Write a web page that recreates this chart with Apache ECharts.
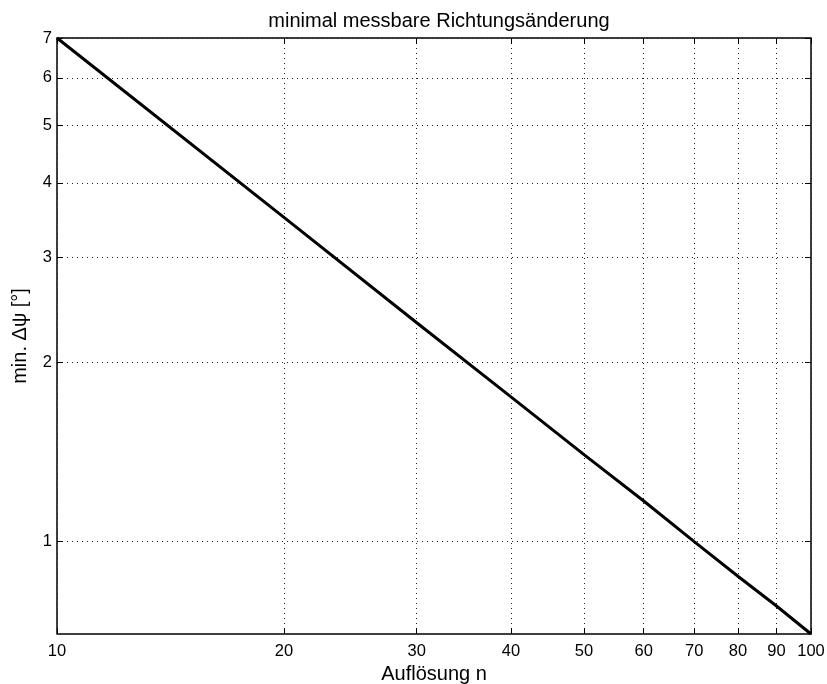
<!DOCTYPE html>
<html><head><meta charset="utf-8">
<script src="https://cdn.jsdelivr.net/npm/echarts@6/dist/echarts.min.js"></script>
<style>html,body{margin:0;padding:0;background:#fff}#c{width:827px;height:684px}</style>
</head><body><div id="c"></div>
<script>
const nValues = [10, 20, 30, 40, 50, 60, 70, 80, 90, 100];
const minDeltaPsi = [7, 3.5, 2.33, 1.75, 1.4, 1.17, 1.0, 0.875, 0.78, 0.7];
const xTicks = [10, 20, 30, 40, 50, 60, 70, 80, 90, 100];
const yTicks = [1, 2, 3, 4, 5, 6, 7];
const titleText = 'minimal messbare Richtungsänderung';
const xName = 'Auflösung n';
const yName = 'min. Δψ [°]';

const font = 'Liberation Sans, Arial, Helvetica, sans-serif';
const grid = {left: 57, right: 16, top: 38, bottom: 50, show: true, borderColor: '#000', borderWidth: 1.5,
  backgroundColor: 'transparent', containLabel: false, outerBoundsMode: 'none'};
const dotted = {color: '#222', width: 1, type: [1, 4]};

const chart = echarts.init(document.getElementById('c'), null, {renderer: 'canvas'});
chart.setOption({
  animation: false,
  backgroundColor: '#fff',
  title: {text: titleText, left: 434, top: 6, textAlign: 'center',
    textStyle: {fontFamily: font, fontSize: 20, fontWeight: 'normal', color: '#000'}},
  grid: grid,
  xAxis: [{
    type: 'log', logBase: 10, min: 10, max: 100, position: 'bottom',
    name: xName, nameLocation: 'middle', nameGap: 17,
    nameTextStyle: {fontFamily: font, fontSize: 20, color: '#000', lineHeight: 12},
    axisLine: {show: false},
    axisTick: {show: true, inside: true, length: 6, customValues: xTicks, lineStyle: {color: '#000'}},
    axisLabel: {customValues: xTicks, fontFamily: font, fontSize: 16.5, color: '#000', margin: 9, showMinLabel: true, showMaxLabel: true},
    splitLine: {show: true, lineStyle: dotted},
    minorTick: {show: false}, minorSplitLine: {show: false}
  }, {
    type: 'log', logBase: 10, min: 10, max: 100, position: 'top',
    axisLine: {show: false},
    axisTick: {show: true, inside: true, length: 6, customValues: xTicks, lineStyle: {color: '#000'}},
    axisLabel: {show: false},
    splitLine: {show: false}
  }],
  yAxis: [{
    type: 'log', logBase: 10, min: 0.7, max: 7, position: 'left',
    name: yName, nameLocation: 'middle', nameGap: 27, nameRotate: 90,
    nameTextStyle: {fontFamily: font, fontSize: 20, color: '#000'},
    axisLine: {show: false},
    axisTick: {show: true, inside: true, length: 6, customValues: yTicks, lineStyle: {color: '#000'}},
    axisLabel: {customValues: yTicks, fontFamily: font, fontSize: 16.5, color: '#000', margin: 5},
    splitLine: {show: true, lineStyle: dotted},
    minorTick: {show: false}, minorSplitLine: {show: false}
  }, {
    type: 'log', logBase: 10, min: 0.7, max: 7, position: 'right',
    axisLine: {show: false},
    axisTick: {show: true, inside: true, length: 6, customValues: yTicks, lineStyle: {color: '#000'}},
    axisLabel: {show: false},
    splitLine: {show: false}
  }],
  series: [{
    type: 'line', xAxisIndex: 0, yAxisIndex: 0,
    data: nValues.map((n, i) => [n, minDeltaPsi[i]]),
    showSymbol: false, symbol: 'none',
    lineStyle: {color: '#000', width: 3}
  }]
});
</script></body></html>
